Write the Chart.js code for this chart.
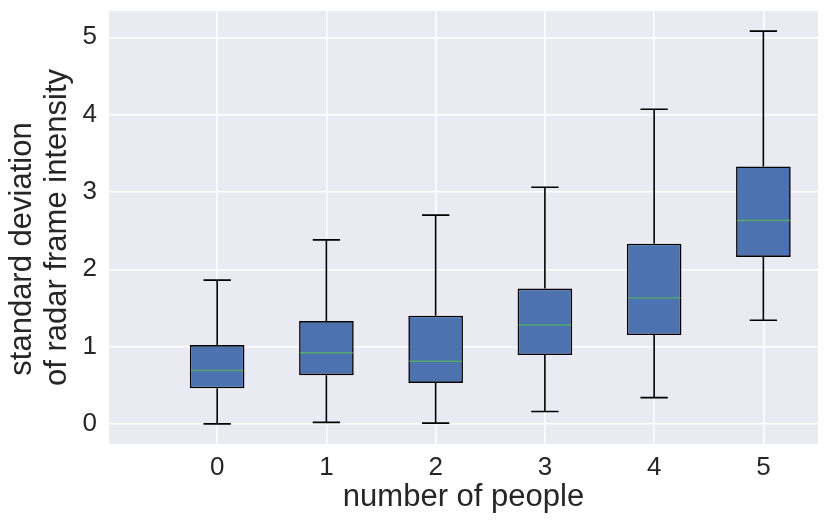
<!DOCTYPE html>
<html>
<head>
<meta charset="utf-8">
<script src="https://cdn.jsdelivr.net/npm/chart.js@4.4.0/dist/chart.umd.min.js"></script>
<style>
  html, body { margin: 0; padding: 0; background: #fff; }
  #wrap { width: 830px; height: 529px; }
</style>
</head>
<body>
<div id="wrap"><canvas id="chart"></canvas></div>
<script>
// number of people (box positions)
const people = [0, 1, 2, 3, 4, 5];
// box plot stats
const whiskerLow  = [0.00, 0.02, 0.01, 0.16, 0.34, 1.34];
const q1          = [0.46, 0.63, 0.53, 0.89, 1.15, 2.16];
const medians     = [0.69, 0.92, 0.81, 1.28, 1.63, 2.63];
const q3          = [1.02, 1.33, 1.40, 1.75, 2.33, 3.33];
const whiskerHigh = [1.86, 2.38, 2.70, 3.06, 4.07, 5.08];
const yTicks = [0, 1, 2, 3, 4, 5];

const textColor = "#262626";
const font = "'Liberation Sans', Arial, sans-serif";

// background of plot area
const plotBg = {
  id: "plotBg",
  beforeDraw(chart) {
    const { ctx, chartArea: a } = chart;
    ctx.save();
    ctx.fillStyle = "#EAEAF2";
    ctx.fillRect(a.left, a.top, a.right - a.left, a.bottom - a.top);
    ctx.restore();
  },
};

// whiskers, caps and medians
const boxParts = {
  id: "boxParts",
  afterDatasetsDraw(chart) {
    const { ctx, scales } = chart;
    const x = scales.x, y = scales.y;
    const capHalf = x.getPixelForValue(0.125) - x.getPixelForValue(0);
    const boxHalf = x.getPixelForValue(0.25) - x.getPixelForValue(0);
    ctx.save();
    people.forEach((p, i) => {
      const px = x.getPixelForValue(p);
      const lo = y.getPixelForValue(whiskerLow[i]);
      const hi = y.getPixelForValue(whiskerHigh[i]);
      ctx.strokeStyle = "#000";
      ctx.lineWidth = 1.6;
      ctx.beginPath();
      ctx.moveTo(px, lo);
      ctx.lineTo(px, y.getPixelForValue(q1[i]));
      ctx.moveTo(px, y.getPixelForValue(q3[i]));
      ctx.lineTo(px, hi);
      ctx.moveTo(px - capHalf, lo);
      ctx.lineTo(px + capHalf, lo);
      ctx.moveTo(px - capHalf, hi);
      ctx.lineTo(px + capHalf, hi);
      ctx.stroke();

      const my = y.getPixelForValue(medians[i]);
      ctx.strokeStyle = "#55A868";
      ctx.lineWidth = 1.4;
      ctx.beginPath();
      ctx.moveTo(px - boxHalf + 1, my);
      ctx.lineTo(px + boxHalf - 1, my);
      ctx.stroke();
    });
    ctx.restore();
  },
};

new Chart(document.getElementById("chart"), {
  type: "bar",
  data: {
    datasets: [
      {
        data: people.map((p, i) => ({ x: p, y: [q1[i], q3[i]] })),
        backgroundColor: "#4C72B0",
        borderColor: "#000",
        borderWidth: 1.6,
        borderSkipped: false,
        barPercentage: 0.5,
        categoryPercentage: 1.0,
      },
    ],
  },
  options: {
    responsive: true,
    maintainAspectRatio: false,
    animation: false,
    layout: { padding: { top: 11, right: 12, left: 0, bottom: 0 } },
    plugins: {
      legend: { display: false },
      tooltip: { enabled: false },
    },
    scales: {
      x: {
        type: "linear",
        offset: false,
        min: -0.99,
        max: 5.5,
        afterBuildTicks: (s) => { s.ticks = people.map((v) => ({ value: v })); },
        afterFit: (s) => { s.height = 85; s.paddingLeft = 0; s.paddingRight = 0; },
        grid: { color: "#fff", lineWidth: 1.5, drawTicks: false, offset: false },
        border: { display: false },
        ticks: {
          color: textColor,
          font: { family: font, size: 26 },
          padding: 8,
          maxRotation: 0,
        },
        title: {
          display: true,
          text: "number of people",
          color: textColor,
          font: { family: font, size: 31 },
          padding: { top: 0, bottom: 13 },
        },
      },
      y: {
        min: -0.26,
        max: 5.34,
        afterBuildTicks: (s) => { s.ticks = yTicks.map((v) => ({ value: v })); },
        afterFit: (s) => { s.width = 109; s.paddingTop = 0; s.paddingBottom = 0; },
        grid: { color: "#fff", lineWidth: 1.5, drawTicks: false },
        border: { display: false },
        ticks: {
          color: textColor,
          font: { family: font, size: 26 },
          padding: 12,
        },
        title: {
          display: true,
          text: ["standard deviation     ", "of radar frame intensity"],
          color: textColor,
          font: { family: font, size: 31, lineHeight: 1.13 },
          padding: { top: 5, bottom: 0 },
        },
      },
    },
  },
  plugins: [plotBg, boxParts],
});
</script>
</body>
</html>
